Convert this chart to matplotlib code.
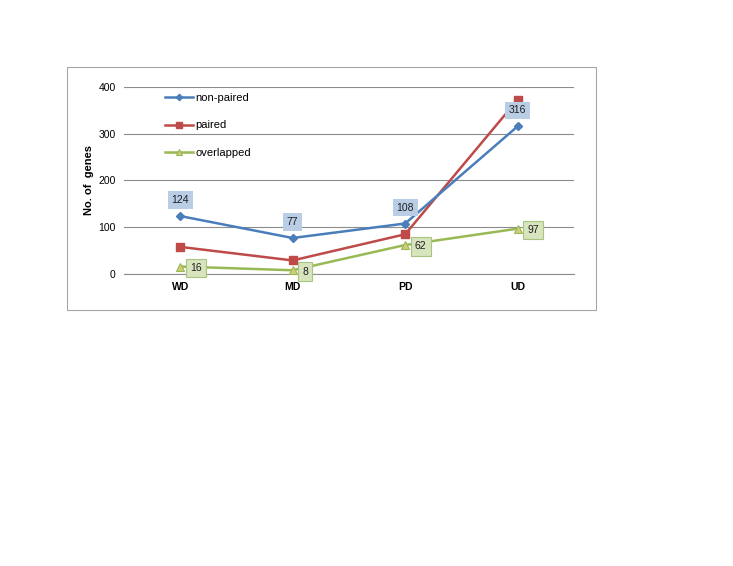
import matplotlib
matplotlib.use("Agg")
import matplotlib.pyplot as plt
from matplotlib.patches import Rectangle

categories = ["WD", "MD", "PD", "UD"]
non_paired = [124, 77, 108, 316]
paired = [58, 29, 85, 373]
overlapped = [16, 8, 62, 97]
yticks = [0, 100, 200, 300, 400]

plt.rcParams['font.family'] = ['Liberation Sans', 'DejaVu Sans']

fig = plt.figure(figsize=(7.33, 5.66), dpi=100)
fig.patches.append(Rectangle((0.0914, 0.4523), 0.8133 - 0.0914, 0.8816 - 0.4523,
                             transform=fig.transFigure, fill=False,
                             edgecolor='#a6a6a6', linewidth=0.8))
ax = fig.add_axes([0.169, 0.5159, 0.783 - 0.169, 0.8463 - 0.5159])
x = list(range(len(categories)))

ax.plot(x, non_paired, color='#4a7ebb', lw=1.8, marker='D', ms=4, label='non-paired', zorder=4)
ax.plot(x, paired, color='#be4b48', lw=1.8, marker='s', ms=6, label='paired', zorder=3)
ax.plot(x, overlapped, color='#98b954', lw=1.8, marker='^', ms=6,
        markerfacecolor='#d4cc78', markeredgecolor='#98b954', markeredgewidth=0.8,
        label='overlapped', zorder=3)

ax.set_xlim(-0.5, 3.5)
ax.set_ylim(0, 400)
ax.set_yticks(yticks)
ax.set_xticks(x)
ax.set_xticklabels(categories, fontsize=7.5, fontweight='bold')
ax.tick_params(axis='y', labelsize=7.5, length=0, pad=6)
ax.tick_params(axis='x', length=0, pad=6)
ax.yaxis.grid(True, color='#8c8c8c', lw=0.8)
ax.set_axisbelow(True)
for s in ['left', 'right', 'top']:
    ax.spines[s].set_visible(False)
ax.spines['bottom'].set_color('#8c8c8c')
ax.spines['bottom'].set_linewidth(0.8)
ax.set_ylabel("No. of  genes", fontsize=8, fontweight='bold', labelpad=3)

for xi, v in zip(x, non_paired):
    ax.annotate(str(v), (xi, v), xytext=(0, 11.5), textcoords='offset points',
                ha='center', va='center', fontsize=7.5, color='#1f1f1f',
                bbox=dict(boxstyle='square,pad=0.35', facecolor='#b9cde5', edgecolor='none'),
                zorder=6)
for xi, v in zip(x, overlapped):
    ax.annotate(str(v), (xi, v), xytext=(7, -1), textcoords='offset points',
                ha='left', va='center', fontsize=7.5, color='#1f1f1f',
                bbox=dict(boxstyle='square,pad=0.4', facecolor='#d7e4bd', edgecolor='#a9c47f', lw=0.8),
                zorder=6)

leg = ax.legend(loc='upper left', bbox_to_anchor=(0.07, 1.02), frameon=False,
                fontsize=8, labelspacing=1.55, handlelength=2.5, handletextpad=0.2,
                markerscale=0.8)

fig.savefig("out.png", dpi=100)
